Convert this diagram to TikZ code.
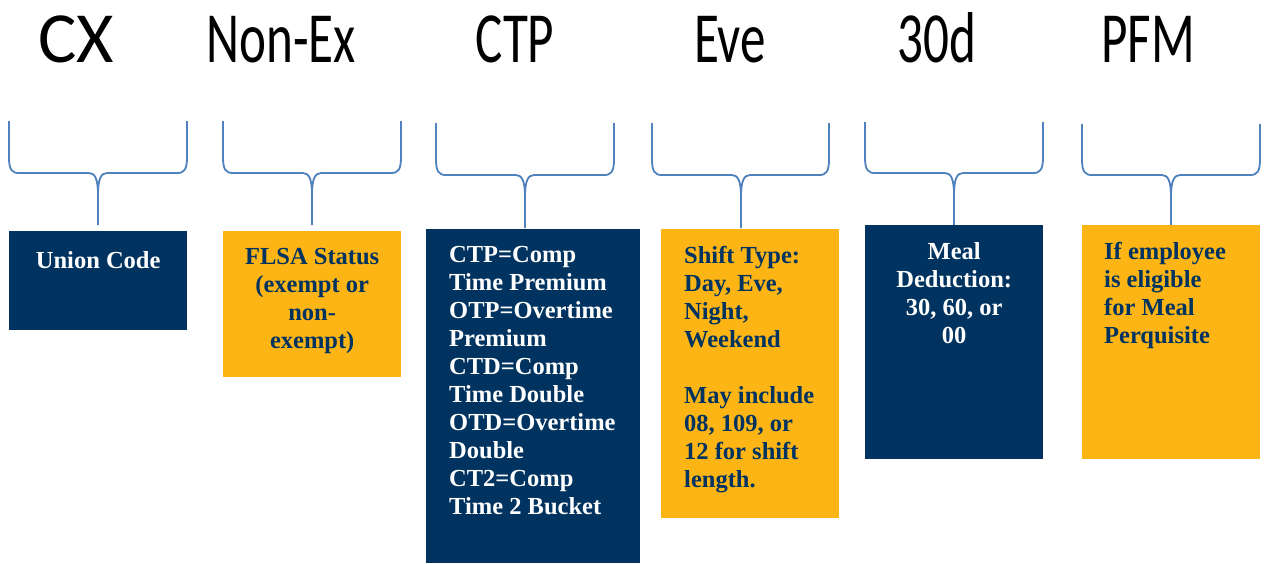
\documentclass[tikz,border=0pt]{standalone}
\usepackage{fontspec}
\usepackage{graphicx}
\usetikzlibrary{positioning}
\setmainfont{Liberation Serif}
\newfontfamily\headfont{Carlito}
\definecolor{cxnavy}{HTML}{00335F}
\definecolor{cxgold}{HTML}{FDB515}
\definecolor{cxblue}{HTML}{4F81BD}
\newcommand{\squeeze}[1]{\scalebox{0.71}[1]{#1}}

\begin{document}
\begin{tikzpicture}[x=1pt, y=-1pt,
  head/.style={font=\headfont\fontsize{72}{72}\selectfont, anchor=base, inner sep=0},
  navybox/.style={fill=cxnavy, inner sep=0, anchor=north west},
  goldbox/.style={fill=cxgold, inner sep=0, anchor=north west},
  txt/.style={font=\bfseries\fontsize{24.5}{28}\selectfont, inner sep=0, align=left,
    anchor=north west, execute at begin node=\strut},
  brace/.style={cxblue, line width=1.8pt, line join=round}]
  \useasboundingbox (0,0) rectangle (1264,563);
  % code letters on top
  \node[head] (hcx)  at (76,62)   {CX};
  \node[head] (hnon) at (281,62)  {\squeeze{Non-Ex}};
  \node[head] (hctp) at (515,62)  {\squeeze{CTP}};
  \node[head] (heve) at (730,62)  {\squeeze{Eve}};
  \node[head] (hded) at (937,62)  {\squeeze{30d}};
  \node[head] (hpfm) at (1148,62) {\squeeze{PFM}};
  % braces
  \foreach \l/\r/\c/\t/\h/\b in {9/187/98/121/173/225, 223/401/312/121/173/225,
      436/614/525/123/175/228, 652/829/741/123/175/228,
      865/1043/954/122/173/225, 1082/1260/1171/124/175/227} {
    \draw[brace] (\l,\t) -- (\l,\h-16) .. controls (\l,\h-3) and (\l+3,\h) .. (\l+10,\h)
      -- (\c-9,\h) .. controls (\c-3,\h) and (\c,\h+6) .. (\c,\h+22) -- (\c,\b);
    \draw[brace] (\r,\t) -- (\r,\h-16) .. controls (\r,\h-3) and (\r-3,\h) .. (\r-10,\h)
      -- (\c+9,\h) .. controls (\c+3,\h) and (\c,\h+6) .. (\c,\h+22);
  }
  % boxes
  \node[navybox, minimum width=178, minimum height=99]  (cx)  at (9,231)    {};
  \node[goldbox, minimum width=178, minimum height=146] (non) at (223,231)  {};
  \node[navybox, minimum width=214, minimum height=334] (ctp) at (426,229)  {};
  \node[goldbox, minimum width=178, minimum height=289] (eve) at (661,229)  {};
  \node[navybox, minimum width=178, minimum height=234] (ded) at (865,225)  {};
  \node[goldbox, minimum width=178, minimum height=234] (pfm) at (1082,225) {};
  % box texts (first baseline 35 below the box top)
  \node[txt, white, align=center, anchor=north] (tcx) at ([yshift=-17.5pt]cx.north) {Union Code};
  \node[txt, cxnavy, align=center, anchor=north] (tnon) at ([yshift=-17.5pt]non.north)
    {FLSA Status\\(exempt or\\non-\\exempt)};
  \node[txt, white] (tctp) at ([xshift=23pt,yshift=-17.5pt]ctp.north west)
    {CTP=Comp\\Time Premium\\OTP=Overtime\\Premium\\CTD=Comp\\Time Double\\OTD=Overtime\\Double\\CT2=Comp\\Time 2 Bucket};
  \node[txt, cxnavy] (teve) at ([xshift=23pt,yshift=-17.5pt]eve.north west)
    {Shift Type:\\Day, Eve,\\Night,\\Weekend\\[28pt]May include\\08, 109, or\\12 for shift\\length.};
  \node[txt, white, align=center, anchor=north] (tded) at ([yshift=-17.5pt]ded.north)
    {Meal\\Deduction:\\30, 60, or\\00};
  \node[txt, cxnavy] (tpfm) at ([xshift=22pt,yshift=-17.5pt]pfm.north west)
    {If employee\\is eligible\\for Meal\\Perquisite};
\end{tikzpicture}
\end{document}
